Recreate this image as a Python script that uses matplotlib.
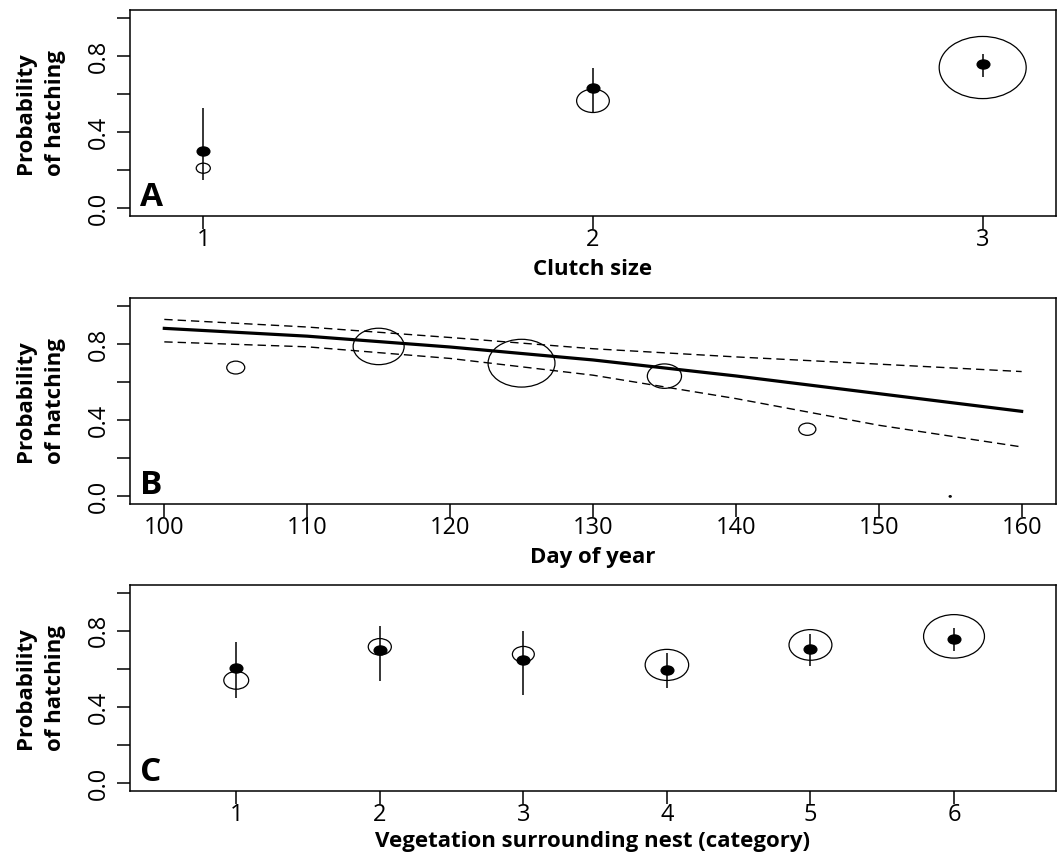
import numpy as np
import matplotlib
matplotlib.use("Agg")
import matplotlib.pyplot as plt
from matplotlib.markers import MarkerStyle
from matplotlib.path import Path
from matplotlib.transforms import Affine2D

plt.rcParams['font.family'] = ['Open Sans', 'DejaVu Sans']

# A: clutch size
clutch = [1, 2, 3]
clutch_fit = [0.304, 0.630, 0.757]
clutch_lo = [0.147, 0.504, 0.691]
clutch_hi = [0.525, 0.737, 0.810]
clutch_obs = [0.211, 0.565, 0.740]
clutch_n = [4.7, 10.9, 29.0]

# B: day of year
day_obs = [105, 115, 125, 135, 145, 155]
day_prop = [0.677, 0.788, 0.700, 0.632, 0.353, 0.0]
day_n = [6.0, 17.0, 22.3, 11.4, 5.7, 0.7]
day_grid = [100, 110, 120, 130, 140, 150, 160]
day_fit = [0.883, 0.842, 0.785, 0.717, 0.633, 0.540, 0.447]
day_upper = [0.930, 0.890, 0.835, 0.776, 0.733, 0.695, 0.656]
day_lower = [0.812, 0.786, 0.725, 0.637, 0.514, 0.374, 0.260]

# C: vegetation category
veg = [1, 2, 3, 4, 5, 6]
veg_fit = [0.604, 0.698, 0.649, 0.595, 0.704, 0.758]
veg_lo = [0.449, 0.535, 0.465, 0.498, 0.613, 0.695]
veg_hi = [0.739, 0.823, 0.797, 0.683, 0.783, 0.813]
veg_obs = [0.540, 0.716, 0.677, 0.621, 0.726, 0.771]
veg_n = [8.3, 7.7, 7.3, 14.5, 14.3, 20.3]

# symbols in the original are a bit squashed, so use an oval marker
oval = MarkerStyle(Path.unit_circle().transformed(Affine2D().scale(1.4, 1.0)))
PX_PER_N = 3.0  # symbol width in pixels per unit of n
DPI = 100


def sym_size(n):
    return (np.asarray(n) * PX_PER_N * 72.0 / DPI) ** 2


def style_axes(ax, letter, xlabel, xlab_y):
    for sp in ax.spines.values():
        sp.set_linewidth(1.1)
    ax.set_ylim(-0.04, 1.04)
    ax.set_yticks(np.arange(0, 1.01, 0.2))
    ax.set_yticklabels(['0.0', '', '0.4', '', '0.8', ''])
    ax.tick_params(axis='both', direction='out', length=9.5, width=1.1, labelsize=17)
    ax.tick_params(axis='y', pad=4, labelrotation=90)
    ax.tick_params(axis='x', pad=-1)
    for lab in ax.get_yticklabels():
        lab.set_va('center')
    ax.set_ylabel('Probability\nof hatching', fontsize=16, fontweight='bold', linespacing=1.6)
    ax.yaxis.set_label_coords(-0.069, 0.5)
    ax.set_xlabel(xlabel, fontsize=16, fontweight='bold', va='baseline')
    ax.xaxis.set_label_coords(0.5, xlab_y)
    ax.text(0.011, 0.049, letter, transform=ax.transAxes, fontsize=24,
            fontweight='bold', va='baseline', ha='left')


def plot_groups(ax, x, fit, lo, hi, obs, n):
    ax.scatter(x, obs, s=sym_size(n), marker=oval, facecolors='none',
               edgecolors='black', linewidths=0.9, zorder=2)
    ax.vlines(x, lo, hi, color='black', lw=1.1, zorder=3)
    ax.scatter(x, fit, s=(12.7 * 72.0 / DPI) ** 2, marker=oval, color='black', zorder=4)


fig = plt.figure(figsize=(10.57, 8.55), dpi=DPI)
left, width, height = 0.123, 0.876, 0.2404

axA = fig.add_axes([left, 0.7474, width, height])
plot_groups(axA, clutch, clutch_fit, clutch_lo, clutch_hi, clutch_obs, clutch_n)
axA.set_xlim(0.812, 3.188)
axA.set_xticks(clutch)
style_axes(axA, 'A', 'Clutch size', -0.286)

axB = fig.add_axes([left, 0.4105, width, height])
axB.scatter(day_obs, day_prop, s=sym_size(day_n), marker=oval, facecolors='none',
            edgecolors='black', linewidths=0.9, zorder=2)
axB.plot(day_grid, day_fit, color='black', lw=2.3, zorder=3)
for ci in (day_upper, day_lower):
    ln, = axB.plot(day_grid, ci, color='black', lw=1.0, zorder=3)
    ln.set_dashes((6, 3.6))
axB.set_xlim(97.6, 162.4)
axB.set_xticks(day_grid)
style_axes(axB, 'B', 'Day of year', -0.286)

axC = fig.add_axes([left, 0.0752, width, height])
plot_groups(axC, veg, veg_fit, veg_lo, veg_hi, veg_obs, veg_n)
axC.set_xlim(0.26, 6.71)
axC.set_xticks(veg)
style_axes(axC, 'C', 'Vegetation surrounding nest (category)', -0.272)

fig.savefig('out.png', dpi=DPI)
